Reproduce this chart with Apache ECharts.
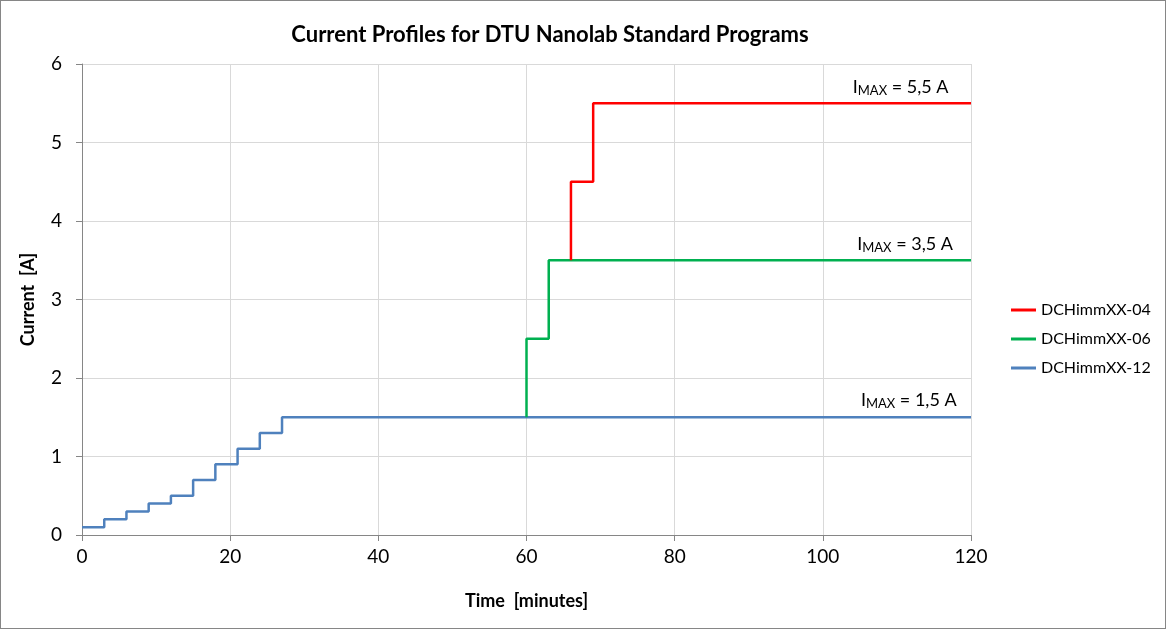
<!DOCTYPE html>
<html><head><meta charset="utf-8">
<script src="https://cdn.jsdelivr.net/npm/echarts@6/dist/echarts.min.js"></script>
<style>html,body{margin:0;padding:0;background:#fff}#c{width:1166px;height:629px;box-sizing:border-box;border:1px solid #868686}</style>
</head><body><div id="c"></div>
<script>
const seriesNames = ['DCHimmXX-04','DCHimmXX-06','DCHimmXX-12'];
const t04 = [66, 66, 69, 120];
const i04 = [3.5, 4.5, 5.5, 5.5];
const t06 = [60, 60, 63, 120];
const i06 = [1.5, 2.5, 3.5, 3.5];
const t12 = [0, 3, 6, 9, 12, 15, 18, 21, 24, 27, 120];
const i12 = [0.1, 0.2, 0.3, 0.4, 0.5, 0.7, 0.9, 1.1, 1.3, 1.5, 1.5];
const annotValues = ['5,5', '3,5', '1,5'];
const annotPos = [[110.5, 5.71], [111.1, 3.71], [111.6, 1.72]];
const colors = ['#FF0000', '#00B050', '#4F81BD'];
const FONT = 'Lato, "Open Sans", sans-serif';

const zip = (a, b) => a.map((v, k) => [v, b[k]]);
const dataSets = [zip(t04, i04), zip(t06, i06), zip(t12, i12)];

const chart = echarts.init(document.getElementById('c'));
chart.setOption({
  animation: false,
  textStyle: {fontFamily: FONT},
  title: {text: 'Current Profiles for DTU Nanolab Standard Programs', left: 544, top: 18, textAlign: 'center',
    textStyle: {fontSize: 22, fontWeight: 'bold', color: '#000', fontFamily: FONT}},
  grid: {left: 81, top: 63, right: 194, bottom: 93},
  legend: {orient: 'vertical', left: 1005, top: 296, itemWidth: 25, itemHeight: 3, itemGap: 13,
    icon: 'rect', textStyle: {fontSize: 16, color: '#000', fontFamily: FONT},
    data: seriesNames},
  xAxis: {type: 'value', min: 0, max: 120, interval: 20,
    name: 'Time  [minutes]', nameLocation: 'middle', nameGap: 57,
    nameTextStyle: {fontSize: 18, fontWeight: 'bold', color: '#000'},
    axisLine: {lineStyle: {color: '#868686', width: 1}},
    axisTick: {show: true, length: 6, lineStyle: {color: '#868686'}},
    axisLabel: {fontSize: 19, color: '#000', margin: 12},
    splitLine: {show: true, lineStyle: {color: '#D9D9D9'}}},
  yAxis: {type: 'value', min: 0, max: 6, interval: 1,
    name: 'Current  [A]', nameLocation: 'middle', nameGap: 45, nameRotate: 90,
    nameTextStyle: {fontSize: 18, fontWeight: 'bold', color: '#000'},
    axisLine: {show: true, lineStyle: {color: '#868686', width: 1}},
    axisTick: {show: true, length: 6, lineStyle: {color: '#868686'}},
    axisLabel: {fontSize: 19, color: '#000', margin: 20},
    splitLine: {show: true, lineStyle: {color: '#D9D9D9'}}},
  series: seriesNames.map((n, k) => ({
    name: n, type: 'line', step: 'end', data: dataSets[k], showSymbol: false, symbol: 'none',
    z: 3 - k,
    color: colors[k], lineStyle: {width: 2.5, color: colors[k]},
    markPoint: {symbol: 'rect', symbolSize: 1, silent: true,
      itemStyle: {color: 'rgba(0,0,0,0)'},
      data: [{coord: annotPos[k], value: annotValues[k]}],
      label: {show: true, position: 'inside', color: '#000',
        formatter: p => '{i|I}{s|MAX}{i| = ' + p.value + ' A}',
        rich: {i: {fontSize: 18, fontFamily: FONT, color: '#000'},
               s: {fontSize: 13, fontFamily: FONT, color: '#000', padding: [8, 0, 0, 0]}}}}
  }))
});
</script></body></html>
